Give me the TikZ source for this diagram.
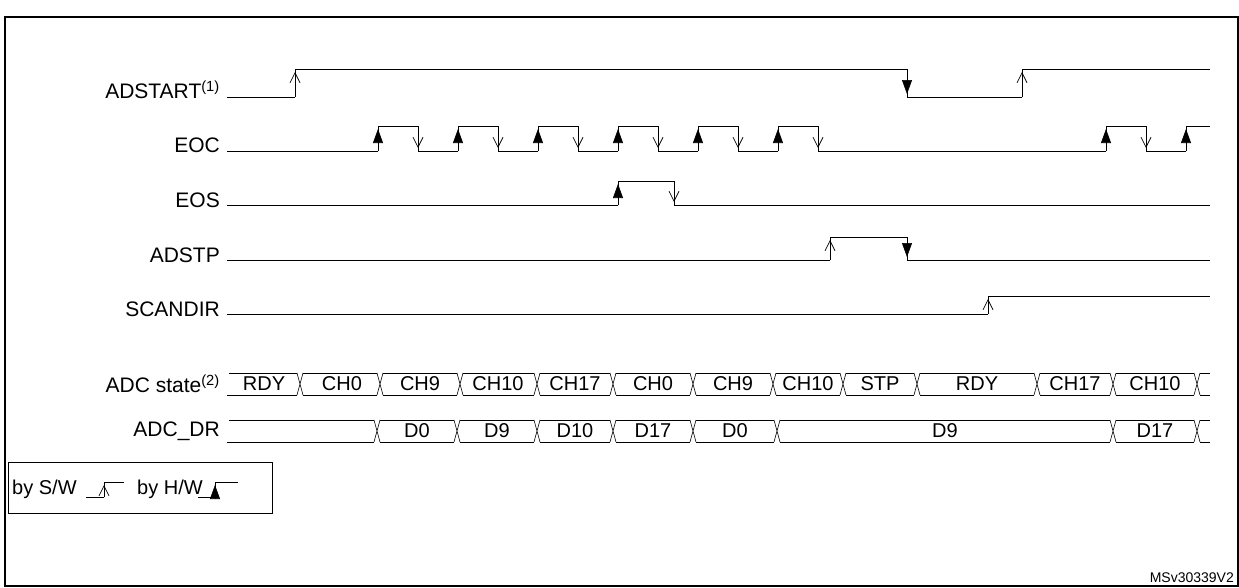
\documentclass[tikz,border=0pt]{standalone}
\usepackage{fontspec}
\setmainfont{Liberation Sans}
\usetikzlibrary{arrows.meta}
\tikzset{
  sig/.style={line width=0.6pt},
  lbl/.style={anchor=east,font=\fontsize{21}{24}\selectfont,inner sep=0pt},
  bustxt/.style={font=\fontsize{20}{24}\selectfont,inner sep=0pt},
  hollow/.style={-{Straight Barb[length=10pt,width=10pt,line width=0.7pt]}},
  solid tip/.style={-{Triangle[length=14pt,width=10pt]}}
}
\newcommand\redge[4]{\draw[sig] (#1,#2)--(#1,#3); \draw[sig,#4] (#1,#2)--(#1,#3+3);}
\newcommand\fedge[4]{\draw[sig] (#1,#2)--(#1,#3); \draw[sig,#4] (#1,#2)--(#1,#3-3);}
\newcommand\xcross[2]{\draw[sig] (#1-3,#2-11)--(#1+3,#2+11) (#1-3,#2+11)--(#1+3,#2-11);}
\begin{document}
\begin{tikzpicture}[x=1pt,y=-1pt]
\useasboundingbox (0,0) rectangle (1239,587);
\draw[line width=2pt] (5,17) rectangle (1238,586);

% labels
\node[lbl] (l1) at (220,90) {ADSTART\textsuperscript{(1)}};
\node[lbl] (l2) at (220,145) {EOC};
\node[lbl] (l3) at (220,200) {EOS};
\node[lbl] (l4) at (220,255) {ADSTP};
\node[lbl] (l5) at (220,309) {SCANDIR};
\node[lbl] (l6) at (220,384) {ADC state\textsuperscript{(2)}};
\node[lbl] (l7) at (220,431) {ADC\_DR};

% ADSTART
\draw[sig] (227,97)--(295,97) (295,69)--(907,69) (907,97)--(1022,97) (1022,69)--(1210,69);
\redge{295}{97}{69}{hollow}
\fedge{907}{69}{97}{solid tip}
\redge{1022}{97}{69}{hollow}

% EOC
\draw[sig] (227,151)--(378,151);
\foreach \a in {378,458,538,618,698,778}{
  \draw[sig] (\a,126)--(\a+40,126) (\a+40,151)--(\a+80,151);
  \redge{\a}{151}{126}{solid tip}
  \fedge{\a+40}{126}{151}{hollow}
}
\draw[sig] (858,151)--(1106,151) (1106,126)--(1146,126) (1146,151)--(1186,151) (1186,126)--(1210,126);
\redge{1106}{151}{126}{solid tip}
\fedge{1146}{126}{151}{hollow}
\redge{1186}{151}{126}{solid tip}

% EOS
\draw[sig] (227,205)--(618,205) (618,181)--(674,181) (674,205)--(1210,205);
\redge{618}{205}{181}{solid tip}
\fedge{674}{181}{205}{hollow}

% ADSTP
\draw[sig] (227,260)--(830,260) (830,237)--(907,237) (907,260)--(1210,260);
\redge{830}{260}{237}{hollow}
\fedge{907}{237}{260}{solid tip}

% SCANDIR
\draw[sig] (227,314)--(988,314) (988,296)--(1210,296);
\redge{988}{314}{296}{hollow}

% ADC state
\def\yc{384}
\draw[sig] (227,\yc+11)--(297,\yc+11) (229,\yc-11)--(297,\yc-11);
\foreach \a/\b in {300/380,380/460,460/537,537/613,613/693,693/773,773/843,843/917,917/1037,1037/1113,1113/1197}{
  \draw[sig] (\a+3,\yc-11)--(\b-3,\yc-11) (\a+3,\yc+11)--(\b-3,\yc+11);
  \xcross{\a}{\yc}
}
\xcross{1197}{\yc}
\draw[sig] (1200,\yc-11)--(1210,\yc-11) (1200,\yc+11)--(1210,\yc+11);
\foreach \m/\t in {264/RDY,342/CH0,420/CH9,498/CH10,575/CH17,653/CH0,733/CH9,808/CH10,880/STP,977/RDY,1075/CH17,1155/CH10}
  \node[bustxt] at (\m,\yc) {\t};

% ADC_DR
\def\yd{431}
\draw[sig] (227,\yd+11)--(374,\yd+11) (229,\yd-11)--(374,\yd-11);
\foreach \a/\b in {377/457,457/537,537/613,613/693,693/777,777/1113,1113/1197}{
  \draw[sig] (\a+3,\yd-11)--(\b-3,\yd-11) (\a+3,\yd+11)--(\b-3,\yd+11);
  \xcross{\a}{\yd}
}
\xcross{1197}{\yd}
\draw[sig] (1200,\yd-11)--(1210,\yd-11) (1200,\yd+11)--(1210,\yd+11);
\foreach \m/\t in {417/D0,497/D9,575/D10,653/D17,735/D0,945/D9,1155/D17}
  \node[bustxt] at (\m,\yd) {\t};

% legend
\draw[sig] (8,462) rectangle (272,513);
\node[bustxt,anchor=west] (sw) at (12,489) {by S/W};
\draw[sig] (86,497)--(104,497) (104,482)--(124,482);
\redge{104}{497}{482}{hollow}
\node[bustxt,anchor=west] (hw) at (137,489) {by H/W};
\draw[sig] (198,497)--(215,497) (215,482)--(238,482);
\redge{215}{497}{482}{solid tip}

\node[anchor=east,font=\fontsize{14}{16}\selectfont,inner sep=0pt] (id) at (1234,578) {MSv30339V2};
\end{tikzpicture}
\end{document}
